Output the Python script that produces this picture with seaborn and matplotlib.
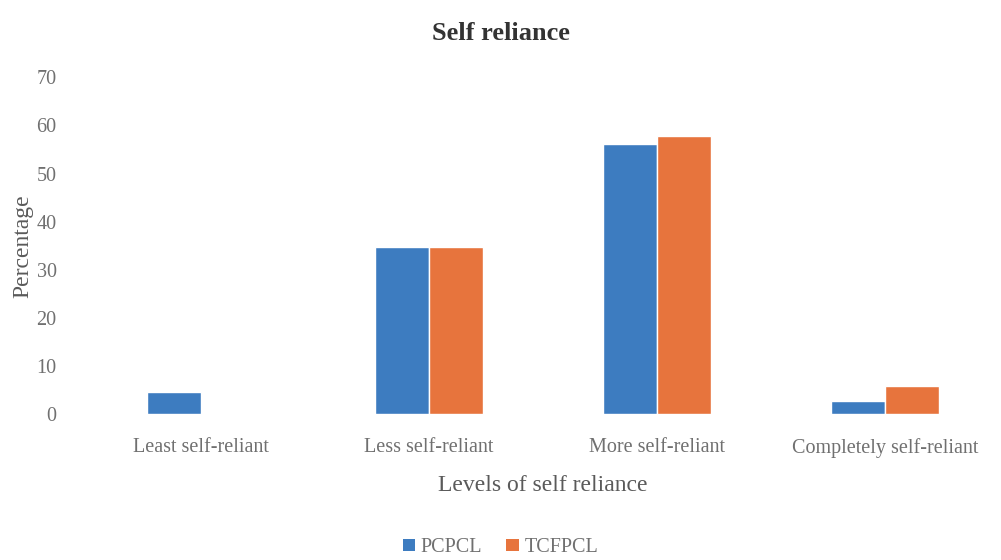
import matplotlib
matplotlib.use("Agg")
import matplotlib.pyplot as plt
import seaborn as sns
import pandas as pd
from matplotlib.patches import Patch

categories = ["Least self-reliant", "Less self-reliant", "More self-reliant", "Completely self-reliant"]
pcpcl = [4.6, 34.7, 56.1, 2.7]
tcfpcl = [0.0, 34.7, 57.8, 5.8]
series_names = ["PCPCL", "TCFPCL"]
yticks = [0, 10, 20, 30, 40, 50, 60, 70]

df = pd.DataFrame({
    "Level": categories * 2,
    "Percentage": pcpcl + tcfpcl,
    "Group": [series_names[0]] * len(categories) + [series_names[1]] * len(categories),
})

sns.set_theme(style="white")
plt.rcParams["font.family"] = ["Liberation Serif", "DejaVu Serif"]

fig = plt.figure(figsize=(10.01, 5.6), dpi=100)
ax = fig.add_axes([0.087, 0.26, 0.911, 0.602])

palette = {"PCPCL": "#3d7cc0", "TCFPCL": "#e7743d"}
sns.barplot(data=df, x="Level", y="Percentage", hue="Group", palette=palette,
            width=0.474, saturation=1, ax=ax, legend=False)

ax.set_ylim(0, 70)
ax.set_yticks(yticks)
ax.set_xlim(-0.5, 3.5)
for s in ax.spines.values():
    s.set_visible(False)
ax.tick_params(axis="both", length=0, colors="#707070", labelsize=14.5)
ax.tick_params(axis="x", pad=17)
ax.tick_params(axis="y", pad=22)
ax.set_xlabel("Levels of self reliance", fontsize=17, color="#5a5a5a", labelpad=12)
ax.set_ylabel("Percentage", fontsize=17, color="#5a5a5a", labelpad=2)

fig.suptitle("Self reliance", fontsize=19, fontweight="bold", color="#333333", y=0.96)

handles = [Patch(facecolor=palette[n], edgecolor="none") for n in series_names]
leg = fig.legend(handles, series_names, loc="center", bbox_to_anchor=(0.5, 0.022),
                 ncol=2, frameon=False, fontsize=14.5, handlelength=0.6, handleheight=0.6,
                 handletextpad=0.3, columnspacing=1.2)
for t in leg.get_texts():
    t.set_color("#707070")

fig.savefig("out.png", dpi=100)
